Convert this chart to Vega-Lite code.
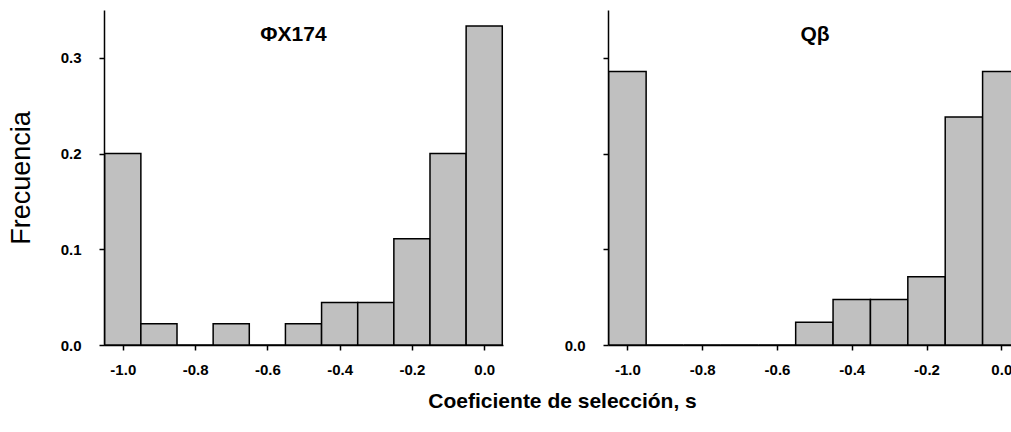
{
  "$schema": "https://vega.github.io/schema/vega-lite/v6.json",
  "background": "white",
  "padding": {"left": 7, "top": 10, "right": 0, "bottom": 6},
  "spacing": 60,
  "title": {"text": "Coeficiente de selección, s", "orient": "bottom", "anchor": "middle", "font": "Liberation Sans", "fontSize": 21, "fontWeight": "bold", "color": "black", "offset": 14, "dx": 52},
  "config": {
    "view": {"stroke": null},
    "axis": {"domainColor": "black", "domainWidth": 1.5, "tickColor": "black", "tickWidth": 1.5, "tickSize": 5, "grid": false, "labelFont": "Liberation Sans", "labelFontWeight": "bold", "labelFontSize": 15, "labelColor": "black"}
  },
  "datasets": {
    "phi": [
      {"bin_start": -1.05, "bin_end": -0.95, "freq": 0.2},
      {"bin_start": -0.95, "bin_end": -0.85, "freq": 0.0222},
      {"bin_start": -0.85, "bin_end": -0.75, "freq": 0},
      {"bin_start": -0.75, "bin_end": -0.65, "freq": 0.0222},
      {"bin_start": -0.65, "bin_end": -0.55, "freq": 0},
      {"bin_start": -0.55, "bin_end": -0.45, "freq": 0.0222},
      {"bin_start": -0.45, "bin_end": -0.35, "freq": 0.0444},
      {"bin_start": -0.35, "bin_end": -0.25, "freq": 0.0444},
      {"bin_start": -0.25, "bin_end": -0.15, "freq": 0.1111},
      {"bin_start": -0.15, "bin_end": -0.05, "freq": 0.2},
      {"bin_start": -0.05, "bin_end": 0.05, "freq": 0.3333}
    ],
    "qbeta": [
      {"bin_start": -1.05, "bin_end": -0.95, "freq": 0.2857},
      {"bin_start": -0.95, "bin_end": -0.85, "freq": 0},
      {"bin_start": -0.85, "bin_end": -0.75, "freq": 0},
      {"bin_start": -0.75, "bin_end": -0.65, "freq": 0},
      {"bin_start": -0.65, "bin_end": -0.55, "freq": 0},
      {"bin_start": -0.55, "bin_end": -0.45, "freq": 0.0238},
      {"bin_start": -0.45, "bin_end": -0.35, "freq": 0.0476},
      {"bin_start": -0.35, "bin_end": -0.25, "freq": 0.0476},
      {"bin_start": -0.25, "bin_end": -0.15, "freq": 0.0714},
      {"bin_start": -0.15, "bin_end": -0.05, "freq": 0.2381},
      {"bin_start": -0.05, "bin_end": 0.05, "freq": 0.2857}
    ]
  },
  "hconcat": [
    {
      "data": {"name": "phi"},
      "width": 399,
      "height": 335,
      "title": {"text": "ΦX174", "font": "Liberation Sans", "fontSize": 21, "fontWeight": "bold", "color": "black", "anchor": "middle", "frame": "group", "offset": -35, "dx": -10},
      "mark": {"type": "rect", "fill": "#c0c0c0", "stroke": "black", "strokeWidth": 1.5},
      "encoding": {
        "x": {"field": "bin_start", "type": "quantitative", "scale": {"domain": [-1.052, 0.052], "nice": false, "zero": false}, "axis": {"title": null, "values": [-1, -0.8, -0.6, -0.4, -0.2, 0], "labelExpr": "replace(format(datum.value, '.1f'), '\u2212', '-')", "labelPadding": 12}},
        "x2": {"field": "bin_end"},
        "y": {"field": "freq", "type": "quantitative", "scale": {"domain": [0, 0.35], "nice": false}, "axis": {"title": "Frecuencia", "titleFont": "Liberation Sans", "titleFontSize": 27, "titleFontWeight": "normal", "titleColor": "black", "titlePadding": 25, "values": [0, 0.1, 0.2, 0.3], "format": ".1f", "labelPadding": 18}},
        "y2": {"datum": 0}
      }
    },
    {
      "data": {"name": "qbeta"},
      "width": 406,
      "height": 335,
      "title": {"text": "Qβ", "font": "Liberation Sans", "fontSize": 21, "fontWeight": "bold", "color": "black", "anchor": "middle", "frame": "group", "offset": -35, "dx": 4},
      "mark": {"type": "rect", "fill": "#c0c0c0", "stroke": "black", "strokeWidth": 1.5, "clip": true},
      "encoding": {
        "x": {"field": "bin_start", "type": "quantitative", "scale": {"domain": [-1.052, 0.034], "nice": false, "zero": false}, "axis": {"title": null, "values": [-1, -0.8, -0.6, -0.4, -0.2, 0], "labelExpr": "replace(format(datum.value, '.1f'), '\u2212', '-')", "labelPadding": 12}},
        "x2": {"field": "bin_end"},
        "y": {"field": "freq", "type": "quantitative", "scale": {"domain": [0, 0.35], "nice": false}, "axis": {"title": null, "values": [0, 0.1, 0.2, 0.3], "labelExpr": "datum.value == 0 ? '0.0' : ''", "labelPadding": 18}},
        "y2": {"datum": 0}
      }
    }
  ]
}
